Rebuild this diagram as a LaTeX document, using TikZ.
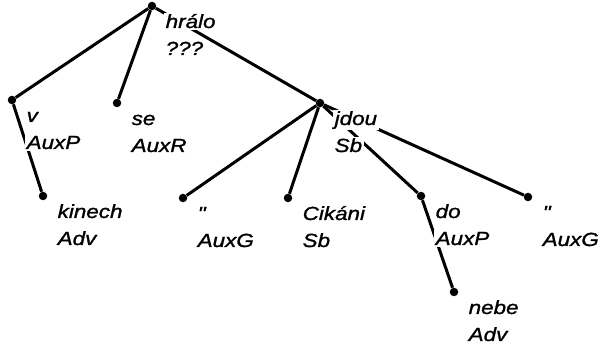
\documentclass[tikz,border=0pt]{standalone}
\usepackage{fontspec}
\newfontfamily\treefont[FakeStretch=1.18, FakeBold=1.3]{Liberation Sans}
\usetikzlibrary{positioning}
\begin{document}
\begin{tikzpicture}[
  x=1pt, y=-1pt,
  dot/.style={circle, fill=black, inner sep=0pt, minimum size=8.5pt},
  dep/.style={line width=3pt},
  lab/.style={anchor=base west, fill=white, inner sep=1.5pt,
              font=\treefont\itshape\fontsize{19}{27}\selectfont}
]
\useasboundingbox (0,0) rectangle (603,347);
\node[dot] (hralo)  at (152,6)   {};
\node[dot] (v)      at (12,100)  {};
\node[dot] (se)     at (117,103) {};
\node[dot] (jdou)   at (320,103) {};
\node[dot] (kinech) at (43,196)  {};
\node[dot] (quoteA) at (183,198) {};
\node[dot] (cikani) at (288,198) {};
\node[dot] (do)     at (421,196) {};
\node[dot] (quoteB) at (528,197) {};
\node[dot] (nebe)   at (454,292) {};
\draw[dep] (hralo) -- (v);
\draw[dep] (hralo) -- (se);
\draw[dep] (hralo) -- (jdou);
\draw[dep] (v) -- (kinech);
\draw[dep] (jdou) -- (quoteA);
\draw[dep] (jdou) -- (cikani);
\draw[dep] (jdou) -- (do);
\draw[dep] (jdou) -- (quoteB);
\draw[dep] (do) -- (nebe);
\node[lab] (hralo-lex)  at ([shift={(12,22)}]hralo.center)  {hrálo};
\node[lab] (hralo-fn)   at ([yshift=-27pt]hralo-lex.base west)  {???};
\node[lab] (v-lex)      at ([shift={(13,22)}]v.center)      {v};
\node[lab] (v-fn)       at ([yshift=-27pt]v-lex.base west)      {AuxP};
\node[lab] (se-lex)     at ([shift={(13,22)}]se.center)     {se};
\node[lab] (se-fn)      at ([yshift=-27pt]se-lex.base west)     {AuxR};
\node[lab] (jdou-lex)   at ([shift={(13,22)}]jdou.center)   {jdou};
\node[lab] (jdou-fn)    at ([yshift=-27pt]jdou-lex.base west)   {Sb};
\node[lab] (kinech-lex) at ([shift={(13,22)}]kinech.center) {kinech};
\node[lab] (kinech-fn)  at ([yshift=-27pt]kinech-lex.base west) {Adv};
\node[lab] (quoteA-lex) at ([shift={(13,22)}]quoteA.center) {"};
\node[lab] (quoteA-fn)  at ([yshift=-27pt]quoteA-lex.base west) {AuxG};
\node[lab] (cikani-lex) at ([shift={(13,22)}]cikani.center) {Cikáni};
\node[lab] (cikani-fn)  at ([yshift=-27pt]cikani-lex.base west) {Sb};
\node[lab] (do-lex)     at ([shift={(13,22)}]do.center)     {do};
\node[lab] (do-fn)      at ([yshift=-27pt]do-lex.base west)     {AuxP};
\node[lab] (quoteB-lex) at ([shift={(13,22)}]quoteB.center) {"};
\node[lab] (quoteB-fn)  at ([yshift=-27pt]quoteB-lex.base west) {AuxG};
\node[lab] (nebe-lex)   at ([shift={(13,22)}]nebe.center)   {nebe};
\node[lab] (nebe-fn)    at ([yshift=-27pt]nebe-lex.base west)   {Adv};
\end{tikzpicture}
\end{document}
